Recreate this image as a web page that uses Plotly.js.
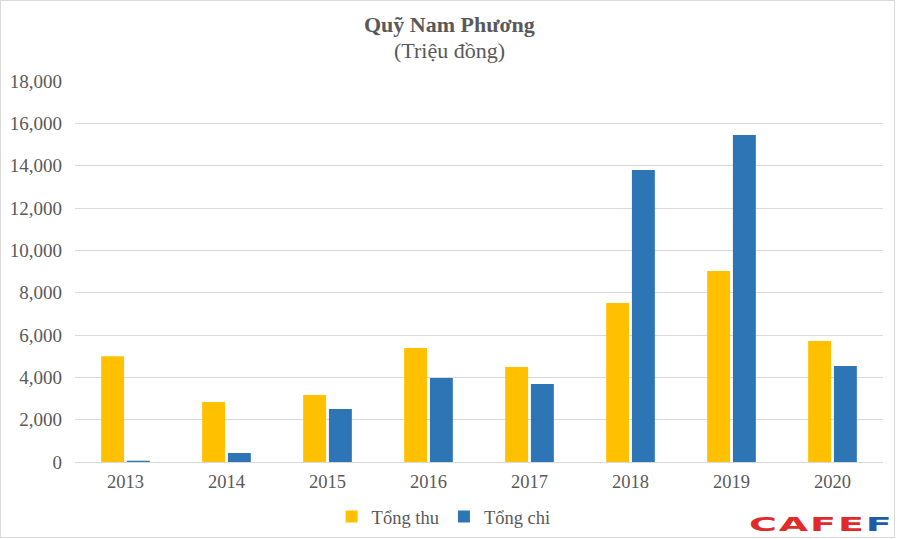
<!DOCTYPE html>
<html>
<head>
<meta charset="utf-8">
<script src="https://cdn.plot.ly/plotly-3.0.1.min.js"></script>
<style>
  html, body { margin: 0; padding: 0; background: #fff; }
  #wrap { position: relative; width: 898px; height: 539px; }
  #frame { position: absolute; left: 0; top: 0; width: 893px; height: 536px; border: 1px solid #d9d9d9; pointer-events: none; }
  #chart { position: absolute; left: 0; top: 0; width: 898px; height: 539px; }
  #logo { position: absolute; left: 749px; top: 514px; font-family: "DejaVu Sans", sans-serif; font-weight: bold; font-size: 20px; line-height: 20px; transform: scale(1.9, 0.98); transform-origin: 0 0; letter-spacing: 1px; white-space: nowrap; }
</style>
</head>
<body>
<div id="wrap">
  <div id="chart"></div>
  <div id="frame"></div>
  <div id="logo"><span style="color:#e02b2b">CAFE</span><span style="color:#1f5aa6">F</span></div>
</div>
<script>
const years = ["2013", "2014", "2015", "2016", "2017", "2018", "2019", "2020"];
const tongThu = [5000, 2830, 3170, 5390, 4490, 7510, 9020, 5720];
const tongChi = [60, 425, 2500, 3970, 3690, 13800, 15450, 4540];
const yTicks = [0, 2000, 4000, 6000, 8000, 10000, 12000, 14000, 16000, 18000];
const yTickText = ["0", "2,000", "4,000", "6,000", "8,000", "10,000", "12,000", "14,000", "16,000", "18,000"];
const titleText = "Quỹ Nam Phương";
const subtitleText = "(Triệu đồng)";

const font = { family: "Liberation Serif, Times New Roman, serif", color: "#595959" };

const data = [
  { type: "bar", name: "Tổng thu", x: years, y: tongThu, marker: { color: "#FFC000" } },
  { type: "bar", name: "Tổng chi", x: years, y: tongChi, marker: { color: "#2E75B6" } }
];

const layout = {
  width: 898, height: 539,
  paper_bgcolor: "rgba(0,0,0,0)", plot_bgcolor: "#fff",
  margin: { l: 75, r: 15, t: 81, b: 77 },
  font: Object.assign({ size: 18 }, font),
  annotations: [
    { text: "<b>" + titleText + "</b>", xref: "paper", yref: "paper", x: 0.463, y: 1.147,
      xanchor: "center", yanchor: "middle", showarrow: false, font: Object.assign({ size: 22 }, font) },
    { text: subtitleText, xref: "paper", yref: "paper", x: 0.463, y: 1.081,
      xanchor: "center", yanchor: "middle", showarrow: false, font: Object.assign({ size: 22 }, font) }
  ],
  barmode: "group", bargap: 0.49, bargroupgap: 0.11,
  xaxis: {
    type: "category", showgrid: false, showline: false, zeroline: false,
    ticks: "", tickfont: Object.assign({ size: 18.5 }, font), ticklabelstandoff: 6
  },
  yaxis: {
    range: [0, 18000], tickvals: yTicks, ticktext: yTickText,
    showgrid: true, gridcolor: "#d9d9d9", gridwidth: 1,
    zeroline: true, zerolinecolor: "#d9d9d9", zerolinewidth: 1,
    showline: false, ticks: "", tickfont: Object.assign({ size: 19 }, font),
    ticklabelstandoff: 12
  },
  showlegend: true,
  legend: {
    orientation: "h", x: 0.494, xanchor: "center", xref: "container",
    y: 0.041, yanchor: "middle", yref: "container",
    font: Object.assign({ size: 18.5 }, font), itemwidth: 30, traceorder: "normal"
  }
};

Plotly.newPlot("chart", data, layout, { displayModeBar: false, staticPlot: true });
</script>
</body>
</html>
